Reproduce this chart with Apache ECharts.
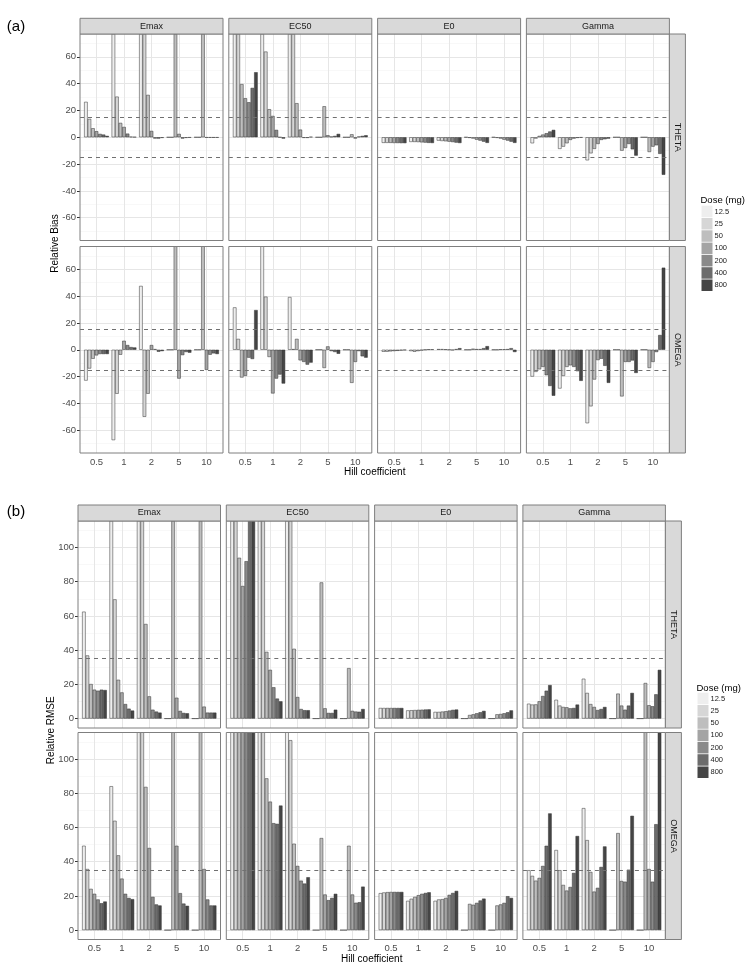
<!DOCTYPE html>
<html>
<head>
<meta charset="utf-8">
<title>Relative bias and RMSE by Hill coefficient</title>
<script src="https://cdn.jsdelivr.net/npm/echarts@6/dist/echarts.min.js"></script>
<style>
  html, body { margin: 0; padding: 0; background: #fff; }
  #main { width: 754px; height: 972px; }
</style>
</head>
<body>
<div id="main"></div>
<script>
// categories and groups
const categories = ['0.5', '1', '2', '5', '10'];
const doses = ['12.5', '25', '50', '100', '200', '400', '800'];
const params = ['Emax', 'EC50', 'E0', 'Gamma'];
const levels = ['THETA', 'OMEGA'];

// tick labels / reference lines
const biasMajor = [-60, -40, -20, 0, 20, 40, 60];
const biasMinor = [-70, -50, -30, -10, 10, 30, 50, 70];
const biasRef = [-15, 15];
const rmseMajor = [0, 20, 40, 60, 80, 100];
const rmseMinor = [10, 30, 50, 70, 90, 110];
const rmseRef = [35];

// each row = one Hill coefficient, values per dose 12.5 .. 800
// (a) relative bias, THETA
const biasThetaEmax = [
  [26.4, 13.7, 6.7, 4.5, 2.5, 2, 1],
  [120, 30.3, 10.7, 7.7, 2.7, 0.4, 0.2],
  [180, 110, 31.6, 4.7, -1, -1, -0.5],
  [0, 0, 250, 2.5, -1, -0.5, -0.3],
  [0, 0, 300, -0.3, -0.3, -0.3, -0.3]
];
const biasThetaEC50 = [
  [160, 95, 39.6, 29.1, 26.1, 36.8, 48.5],
  [140, 63.9, 20.9, 15.9, 5.5, 0, -1],
  [190, 90, 25.4, 5.7, -0.5, -0.5, 0.3],
  [0, 0, 23.1, 1.5, 0.5, 1, 2.5],
  [0, 0, 2.2, -1, 0.5, 1, 1.5]
];
const biasThetaE0 = [
  [-4.2, -4.2, -4.2, -4.3, -4.3, -4.4, -4.4],
  [-3.5, -3.5, -3.6, -3.8, -4, -4.2, -4.3],
  [-2.5, -2.8, -3, -3.3, -3.6, -4, -4.3],
  [0, -0.5, -1, -1.8, -2.5, -3.3, -4.2],
  [0, -0.5, -1, -1.8, -2.5, -3.3, -4.2]
];
const biasThetaGamma = [
  [-4.5, -1, 1, 2, 3, 4.3, 5.5],
  [-8.7, -7, -4.5, -2, -1, -0.5, -0.3],
  [-17.2, -12, -8.7, -5, -2, -1.5, -1],
  [0, 0, -10, -8, -5, -9, -13.7],
  [0, 0, -11, -7, -6, -12.4, -28]
];
// (a) relative bias, OMEGA
const biasOmegaEmax = [
  [-23, -14, -6.7, -4.2, -3.2, -3.2, -3.2],
  [-67.4, -32.8, -3.7, 6.7, 3.5, 2, 1.7],
  [47.6, -50, -32.8, 3.5, 0.5, -1.5, -1],
  [0, 0, 200, -21.5, -4, -1.7, -2.2],
  [0, 0, 250, -15, -3.7, -2.7, -3.2]
];
const biasOmegaEC50 = [
  [31.6, 8.1, -20.7, -19.5, -5.9, -6.9, 29.6],
  [130, 39.6, -5.4, -32.6, -21.5, -18.5, -25.2],
  [39.3, 0.5, 8.1, -7.9, -9.1, -11.1, -9.6],
  [0, 0, -13.6, 2.5, -1, -1.7, -3],
  [0, 0, -24.7, -9.1, -1, -4.9, -5.9]
];
const biasOmegaE0 = [
  [-1.5, -1.5, -1.2, -1, -0.8, -0.5, -0.3],
  [-1, -1.5, -1, -0.5, 0, 0.3, 0.3],
  [0.5, 0.5, 0.3, 0, -0.3, 0.5, 1.2],
  [0, 0, 0.8, 0.5, 0.5, 1.2, 2.7],
  [0, 0, 0.3, 0.3, 0.5, 1.2, -1.7]
];
const biasOmegaGamma = [
  [-20, -16.5, -14.6, -12.8, -19, -27, -34.3],
  [-28.9, -19.5, -12.8, -11.6, -12.8, -16, -23.2],
  [-54.8, -42.2, -22.2, -7.7, -6.7, -12, -24.7],
  [0, 0, -34.8, -9.1, -9.1, -8, -17.3],
  [0, 0, -13.6, -9.1, -1.7, 11, 61.2]
];
// (b) relative RMSE, THETA
const rmseThetaEmax = [
  [62.5, 36.9, 20.2, 16.9, 16.3, 16.9, 16.7],
  [160, 69.7, 22.7, 15.3, 8.5, 5.8, 4.7],
  [250, 180, 55.3, 13, 5.2, 4.1, 3.5],
  [0, 0, 300, 12.2, 4.5, 3.3, 3.1],
  [0, 0, 350, 7, 3.5, 3.5, 3.5]
];
const rmseThetaEC50 = [
  [260, 180, 94, 77.5, 92, 130, 150],
  [200, 130, 39, 28.5, 18.3, 11.7, 10.1],
  [270, 170, 40.8, 12.6, 5.6, 4.9, 4.9],
  [0, 0, 79.6, 6, 3.3, 3.3, 5.2],
  [0, 0, 29.5, 4.5, 4.1, 4, 5.6]
];
const rmseThetaE0 = [
  [6.2, 6.2, 6.2, 6.2, 6.2, 6.2, 6.2],
  [4.8, 4.9, 5, 5.1, 5.2, 5.3, 5.4],
  [3.9, 3.9, 4.1, 4.3, 4.7, 5.1, 5.3],
  [0, 0, 2.1, 2.5, 3.1, 3.7, 4.5],
  [0, 0, 2.5, 2.7, 3.1, 3.7, 4.8]
];
const rmseThetaGamma = [
  [8.7, 8.2, 8.3, 10.1, 13.2, 16.3, 19.6],
  [11, 7.6, 6.8, 6.6, 6, 6.2, 8.2],
  [23.3, 15, 8.5, 6.8, 5, 5.6, 6.8],
  [0, 0, 14.6, 7.6, 5.2, 7.6, 15],
  [0, 0, 20.8, 7.8, 7.2, 14.2, 28.5]
];
// (b) relative RMSE, OMEGA
const rmseOmegaEmax = [
  [49.3, 35.7, 24.1, 21.2, 17.9, 15.7, 16.7],
  [84.1, 63.9, 43.7, 30.1, 21.2, 18.8, 18.1],
  [240, 170, 83.7, 48, 19.4, 15, 14.4],
  [0, 0, 260, 49.3, 21.6, 15.5, 14.2],
  [0, 0, 300, 35.7, 17.9, 14.4, 14.4]
];
const rmseOmegaEC50 = [
  [300, 250, 200, 160, 140, 150, 170],
  [220, 150, 88.7, 75.1, 62.5, 62.1, 72.8],
  [260, 111, 50.5, 37.5, 28.9, 27.2, 30.9],
  [0, 0, 53.8, 20.8, 17.5, 18.8, 21.2],
  [0, 0, 49.3, 20.8, 16, 16.3, 25.4]
];
const rmseOmegaE0 = [
  [21.6, 22, 22.2, 22.3, 22.3, 22.3, 22.3],
  [17.1, 18.3, 19.4, 20.4, 21.2, 21.7, 22.1],
  [17.1, 17.9, 18.1, 18.8, 20.6, 21.7, 22.9],
  [0, 0, 15.3, 14.8, 15.9, 17.3, 18.4],
  [0, 0, 14.4, 15, 15.9, 19.8, 18.8]
];
const rmseOmegaGamma = [
  [35, 31.7, 28.9, 30.5, 37.5, 49.3, 68.2],
  [46.8, 35, 26.4, 23.1, 25.2, 33.4, 55],
  [71.3, 52.6, 34, 22.5, 24.7, 36.9, 48.9],
  [0, 0, 56.7, 28.7, 28.3, 35.3, 66.8],
  [0, 0, 140, 35.7, 28.3, 61.9, 180]
];

const doseColors = ['#eeeeee', '#d6d6d6', '#bebebe', '#a4a4a4', '#8a8a8a', '#6c6c6c', '#454545'];
const FONT = 'Liberation Sans, Arial, sans-serif';

// layout of the two figures
const figA = {
  tag: '(a)', yTitle: 'Relative Bias', yMin: -77, yMax: 77,
  major: biasMajor, minor: biasMinor, refs: biasRef,
  left: 80, step: 148.8, width: 143, stripTop: 18.3, rowTop: [34, 246.5], rowH: 206.5,
  tagY: 26.5, xTitleY: 472.7, yTitleX: 55,
  legendLeft: 701.5, legendTop: 205.7, legendTitleY: 200,
  panels: [
    [biasThetaEmax, biasThetaEC50, biasThetaE0, biasThetaGamma],
    [biasOmegaEmax, biasOmegaEC50, biasOmegaE0, biasOmegaGamma]
  ]
};
const figB = {
  tag: '(b)', yTitle: 'Relative RMSE', yMin: -5.5, yMax: 115.5,
  major: rmseMajor, minor: rmseMinor, refs: rmseRef,
  left: 78, step: 148.3, width: 142.5, stripTop: 505, rowTop: [521, 732.5], rowH: 207,
  tagY: 511.5, xTitleY: 959.3, yTitleX: 51.5,
  legendLeft: 697.5, legendTop: 692.7, legendTitleY: 688,
  panels: [
    [rmseThetaEmax, rmseThetaEC50, rmseThetaE0, rmseThetaGamma],
    [rmseOmegaEmax, rmseOmegaEC50, rmseOmegaE0, rmseOmegaGamma]
  ]
};

const grid = [];
const xAxis = [];
const yAxis = [];
const series = [];
const graphic = [];
const legend = [];

const majorStyle = { color: '#e6e6e6', width: 1, type: 'solid' };
const minorStyle = { color: '#f3f3f3', width: 0.6, type: 'solid' };

function textEl (text, x, y, size, opts) {
  opts = opts || {};
  return {
    type: 'text', x: x, y: y, rotation: opts.rotation || 0, silent: true, z: 20,
    style: {
      text: text, fontSize: size, fontFamily: FONT, fill: opts.color || '#1a1a1a',
      textAlign: opts.align || 'center', textVerticalAlign: 'middle',
      align: opts.align || 'center', verticalAlign: 'middle'
    }
  };
}

function buildFigure (fig) {
  const nCols = params.length;
  const right = fig.left + (nCols - 1) * fig.step + fig.width;

  fig.panels.forEach((row, r) => {
    row.forEach((values, c) => {
      const px = fig.left + c * fig.step;
      const py = fig.rowTop[r];
      const w = fig.width;
      const h = fig.rowH;

      // frame grid: background, grid lines, reference lines, y labels
      const fi = grid.length;
      grid.push({ left: px, top: py, width: w, height: h, show: true, backgroundColor: '#fff', borderWidth: 0 });
      xAxis.push({ gridIndex: fi, type: 'value', min: 0.4, max: 5.6, show: false });
      yAxis.push({
        gridIndex: fi, type: 'value', min: fig.yMin, max: fig.yMax,
        axisLine: { show: false },
        splitLine: { show: false },
        axisTick: { show: c === 0, length: 3, lineStyle: { color: '#333' }, customValues: fig.major },
        axisLabel: { show: c === 0, customValues: fig.major, fontSize: 9.5, color: '#4d4d4d', margin: 4, fontFamily: FONT }
      });
      series.push({
        type: 'line', xAxisIndex: fi, yAxisIndex: fi, data: [], silent: true,
        markLine: {
          z: 1, silent: true, symbol: ['none', 'none'], label: { show: false }, animation: false,
          data: [].concat(
            fig.minor.map(v => ({ yAxis: v, lineStyle: minorStyle })),
            fig.major.map(v => ({ yAxis: v, lineStyle: majorStyle })),
            categories.map((cat, i) => ({ xAxis: i + 1, lineStyle: majorStyle }))
          )
        }
      });
      series.push({
        type: 'line', xAxisIndex: fi, yAxisIndex: fi, data: [], silent: true,
        markLine: {
          z: 5, silent: true, symbol: ['none', 'none'], label: { show: false }, animation: false,
          lineStyle: { color: '#707070', width: 1, type: [4, 4] },
          data: fig.refs.map(v => ({ yAxis: v }))
        }
      });

      // data grid (inset like ggplot's discrete expansion)
      const inset = w * 0.1 / 5.2;
      const di = grid.length;
      grid.push({ left: px + inset, top: py, width: w - 2 * inset, height: h });
      xAxis.push({
        gridIndex: di, type: 'category', data: categories,
        axisLine: { show: false },
        splitLine: { show: false },
        axisTick: { show: r === 1, alignWithLabel: true, length: 3, lineStyle: { color: '#333' } },
        axisLabel: { show: r === 1, fontSize: 9.5, color: '#4d4d4d', margin: 4, fontFamily: FONT }
      });
      yAxis.push({ gridIndex: di, type: 'value', min: fig.yMin, max: fig.yMax, show: false });
      doses.forEach((d, k) => {
        series.push({
          type: 'bar', name: d, xAxisIndex: di, yAxisIndex: di,
          data: values.map(v => v[k]),
          barGap: '0%', barCategoryGap: '10%', silent: true, z: 2, clip: true,
          itemStyle: { color: doseColors[k], borderColor: '#333', borderWidth: 0.5 }
        });
      });

      // panel border on top
      graphic.push({
        type: 'rect', silent: true, z: 10,
        shape: { x: px, y: py, width: w, height: h },
        style: { fill: 'none', stroke: '#7f7f7f', lineWidth: 1 }
      });

      // strips
      if (r === 0) {
        const sh = py - fig.stripTop;
        graphic.push({
          type: 'rect', silent: true, z: 10,
          shape: { x: px, y: fig.stripTop, width: w, height: sh },
          style: { fill: '#d9d9d9', stroke: '#7f7f7f', lineWidth: 1 }
        });
        graphic.push(textEl(params[c], px + w / 2, fig.stripTop + sh / 2, 9));
      }
      if (c === nCols - 1) {
        graphic.push({
          type: 'rect', silent: true, z: 10,
          shape: { x: px + w, y: py, width: 16, height: h },
          style: { fill: '#d9d9d9', stroke: '#7f7f7f', lineWidth: 1 }
        });
        graphic.push(textEl(levels[r], px + w + 8, py + h / 2, 9, { rotation: -Math.PI / 2 }));
      }
    });
  });

  // titles
  graphic.push(textEl(fig.tag, 16, fig.tagY, 15, { color: '#000' }));
  graphic.push(textEl('Hill coefficient', (fig.left + right) / 2, fig.xTitleY, 10, { color: '#000' }));
  const yMid = (fig.rowTop[0] + fig.rowTop[1] + fig.rowH) / 2;
  graphic.push(textEl(fig.yTitle, fig.yTitleX, yMid, 10, { color: '#000', rotation: Math.PI / 2 }));
  graphic.push(textEl('Dose (mg)', fig.legendLeft - 1, fig.legendTitleY, 9.5, { color: '#000', align: 'left' }));

  legend.push({
    orient: 'vertical', left: fig.legendLeft, top: fig.legendTop, padding: 0,
    itemGap: 0.8, itemWidth: 11, itemHeight: 11.5, icon: 'rect', selectedMode: false,
    data: doses,
    itemStyle: { borderWidth: 0 },
    textStyle: { fontSize: 7.5, color: '#1a1a1a', fontFamily: FONT, padding: [0, 0, 0, -3] }
  });
}

buildFigure(figA);
buildFigure(figB);

const chart = echarts.init(document.getElementById('main'));
chart.setOption({
  animation: false,
  backgroundColor: '#fff',
  textStyle: { fontFamily: FONT },
  legend: legend,
  grid: grid,
  xAxis: xAxis,
  yAxis: yAxis,
  series: series,
  graphic: graphic
});
</script>
</body>
</html>
